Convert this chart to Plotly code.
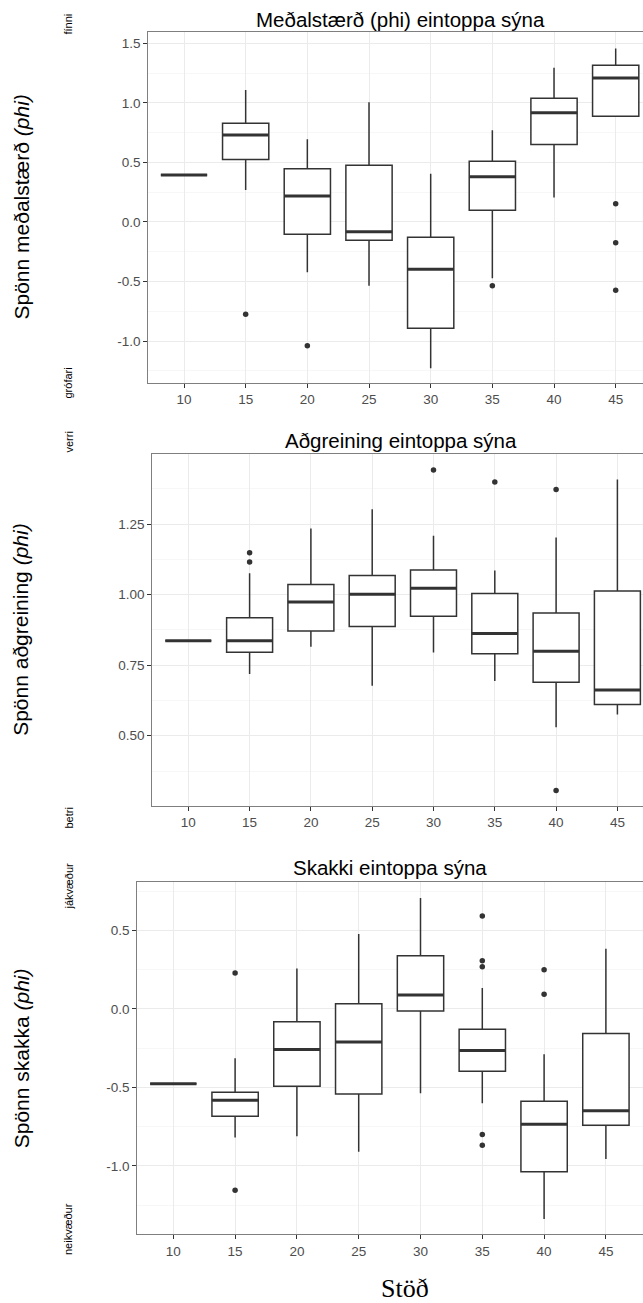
import plotly.graph_objects as go

# Stations along the transect
stations = ["10", "15", "20", "25", "30", "35", "40", "45"]

# Mean grain size (phi) of unimodal samples: box statistics per station
mean_q1 = [0.394, 0.523, -0.104, -0.154, -0.893, 0.098, 0.649, 0.887]
mean_med = [0.394, 0.730, 0.218, -0.082, -0.398, 0.380, 0.917, 1.209]
mean_q3 = [0.394, 0.828, 0.447, 0.475, -0.129, 0.509, 1.038, 1.315]
mean_lo = [0.394, 0.268, -0.423, -0.535, -1.229, -0.473, 0.204, 0.887]
mean_hi = [0.394, 1.108, 0.694, 1.004, 0.405, 0.769, 1.295, 1.455]
mean_out_st = ["15", "20", "35", "45", "45", "45"]
mean_out_val = [-0.776, -1.039, -0.535, 0.153, -0.174, -0.574]
mean_ticks = [-1.0, -0.5, 0.0, 0.5, 1.0, 1.5]

# Sorting (phi)
sort_q1 = [0.837, 0.796, 0.871, 0.887, 0.924, 0.791, 0.690, 0.611]
sort_med = [0.837, 0.837, 0.974, 1.002, 1.023, 0.863, 0.800, 0.662]
sort_q3 = [0.837, 0.918, 1.036, 1.068, 1.088, 1.004, 0.935, 1.013]
sort_lo = [0.837, 0.719, 0.816, 0.677, 0.795, 0.694, 0.530, 0.575]
sort_hi = [0.837, 1.076, 1.235, 1.303, 1.209, 1.086, 1.203, 1.409]
sort_out_st = ["15", "15", "30", "35", "40", "40"]
sort_out_val = [1.149, 1.116, 1.442, 1.400, 1.373, 0.306]
sort_ticks = [0.50, 0.75, 1.00, 1.25]

# Skewness (phi)
skew_q1 = [-0.477, -0.683, -0.492, -0.541, -0.014, -0.397, -1.036, -0.741]
skew_med = [-0.477, -0.581, -0.258, -0.210, 0.088, -0.265, -0.734, -0.649]
skew_q3 = [-0.477, -0.530, -0.082, 0.033, 0.339, -0.129, -0.588, -0.156]
skew_lo = [-0.477, -0.819, -0.811, -0.909, -0.537, -0.600, -1.338, -0.955]
skew_hi = [-0.477, -0.314, 0.258, 0.477, 0.706, 0.133, -0.288, 0.383]
skew_out_st = ["15", "15", "35", "35", "35", "35", "35", "40", "40"]
skew_out_val = [0.228, -1.155, 0.591, 0.307, 0.268, -0.800, -0.868, 0.249, 0.094]
skew_ticks = [-1.0, -0.5, 0.0, 0.5]

W, H = 643, 1303
BOX_W = 0.75
INK = "#333333"


def fx(p):
    return p / W


def fy(p):
    return 1 - p / H


panels = [
    dict(title="Meðalstærð (phi) eintoppa sýna",
         ytitle="Spönn meðalstærð <i>(phi)</i>",
         top_lab="fínni", bot_lab="grófari",
         q1=mean_q1, med=mean_med, q3=mean_q3, lo=mean_lo, hi=mean_hi,
         out_st=mean_out_st, out_val=mean_out_val, ticks=mean_ticks, fmt="{:.1f}",
         left=148.3, top=32.3, bottom=382.7, x0=184.0, step=61.67,
         yrange=[-1.350, 1.592], minor=0.25, title_x=400, title_y=19,
         top_y=12, bot_y=401),
    dict(title="Aðgreining eintoppa sýna",
         ytitle="Spönn aðgreining <i>(phi)</i>",
         top_lab="verri", bot_lab="betri",
         q1=sort_q1, med=sort_med, q3=sort_q3, lo=sort_lo, hi=sort_hi,
         out_st=sort_out_st, out_val=sort_out_val, ticks=sort_ticks, fmt="{:.2f}",
         left=152.3, top=454.0, bottom=805.7, x0=188.3, step=61.3,
         yrange=[0.252, 1.499], minor=0.125, title_x=401, title_y=440,
         top_y=430, bot_y=831),
    dict(title="Skakki eintoppa sýna",
         ytitle="Spönn skakka <i>(phi)</i>",
         top_lab="jákvæður", bot_lab="neikvæður",
         q1=skew_q1, med=skew_med, q3=skew_q3, lo=skew_lo, hi=skew_hi,
         out_st=skew_out_st, out_val=skew_out_val, ticks=skew_ticks, fmt="{:.1f}",
         left=137.3, top=882.3, bottom=1234.3, x0=173.3, step=61.8,
         yrange=[-1.435, 0.806], minor=0.25, title_x=390, title_y=867,
         top_y=861, bot_y=1257),
]

fig = go.Figure()
layout = dict(
    width=W, height=H, autosize=False,
    margin=dict(l=0, r=0, t=0, b=0),
    paper_bgcolor="white", plot_bgcolor="white",
    showlegend=False,
    font=dict(family="Arial, Liberation Sans, sans-serif", color="#000000"),
)
annotations = []
pos = list(range(len(stations)))

for k, p in enumerate(panels):
    sfx = "" if k == 0 else str(k + 1)
    xa, ya = "x" + sfx, "y" + sfx

    fig.add_trace(go.Box(
        x=pos, q1=p["q1"], median=p["med"], q3=p["q3"],
        lowerfence=p["lo"], upperfence=p["hi"],
        width=BOX_W, whiskerwidth=0, boxpoints=False,
        fillcolor="white", line=dict(color=INK, width=1.5),
        xaxis=xa, yaxis=ya, hoverinfo="skip",
    ))

    # thicker median bars
    mx, my = [], []
    for i, m in enumerate(p["med"]):
        mx += [i - BOX_W / 2, i + BOX_W / 2, None]
        my += [m, m, None]
    fig.add_trace(go.Scatter(
        x=mx, y=my, mode="lines", line=dict(color=INK, width=3),
        xaxis=xa, yaxis=ya, hoverinfo="skip",
    ))

    # outlying samples
    fig.add_trace(go.Scatter(
        x=[stations.index(s) for s in p["out_st"]], y=p["out_val"],
        mode="markers", marker=dict(color=INK, size=5.5),
        xaxis=xa, yaxis=ya, hoverinfo="skip",
    ))

    x_lo = (p["left"] - p["x0"]) / p["step"]
    x_hi = (W - p["x0"]) / p["step"]
    layout["xaxis" + sfx] = dict(
        domain=[fx(p["left"]), 1.0], anchor=ya, range=[x_lo, x_hi],
        tickmode="array", tickvals=pos, ticktext=stations,
        showgrid=True, gridcolor="#EBEBEB", gridwidth=1.2, zeroline=False,
        showline=True, linecolor="#7F7F7F", linewidth=1.3, mirror=True,
        ticks="outside", ticklen=4, tickwidth=1, tickcolor=INK,
        tickfont=dict(size=13.5, color="#4D4D4D"),
    )
    layout["yaxis" + sfx] = dict(
        domain=[fy(p["bottom"]), fy(p["top"])], anchor=xa, range=p["yrange"],
        tickmode="array", tickvals=p["ticks"],
        ticktext=[p["fmt"].format(v) for v in p["ticks"]],
        showgrid=True, gridcolor="#EBEBEB", gridwidth=1.2, zeroline=False,
        minor=dict(showgrid=True, gridcolor="#F7F7F7", gridwidth=1,
                   tick0=p["minor"], dtick=2 * p["minor"], ticks=""),
        showline=True, linecolor="#7F7F7F", linewidth=1.3, mirror=False,
        ticks="outside", ticklen=4, tickwidth=1, tickcolor=INK,
        tickfont=dict(size=13.5, color="#4D4D4D"),
    )

    annotations.append(dict(
        text=p["title"], x=fx(p["title_x"]), y=fy(p["title_y"]),
        xref="paper", yref="paper", xanchor="center", yanchor="middle",
        showarrow=False, font=dict(size=20.5, color="#000000"),
    ))
    annotations.append(dict(
        text=p["ytitle"], x=fx(21), y=fy((p["top"] + p["bottom"]) / 2),
        xref="paper", yref="paper", xanchor="center", yanchor="middle",
        textangle=-90, showarrow=False, font=dict(size=21, color="#000000"),
    ))
    annotations.append(dict(
        text=p["top_lab"], x=fx(68), y=fy(p["top_y"]),
        xref="paper", yref="paper", xanchor="center", yanchor="top",
        textangle=-90, showarrow=False, font=dict(size=11, color="#000000"),
    ))
    annotations.append(dict(
        text=p["bot_lab"], x=fx(68), y=fy(p["bot_y"]),
        xref="paper", yref="paper", xanchor="center", yanchor="bottom",
        textangle=-90, showarrow=False, font=dict(size=11, color="#000000"),
    ))

annotations.append(dict(
    text="Stöð", x=fx(405), y=fy(1288), xref="paper", yref="paper",
    xanchor="center", yanchor="middle", showarrow=False,
    font=dict(size=26, family="Liberation Serif, Times New Roman, serif", color="#000000"),
))

layout["annotations"] = annotations
fig.update_layout(**layout)
fig.write_html("out.html")
